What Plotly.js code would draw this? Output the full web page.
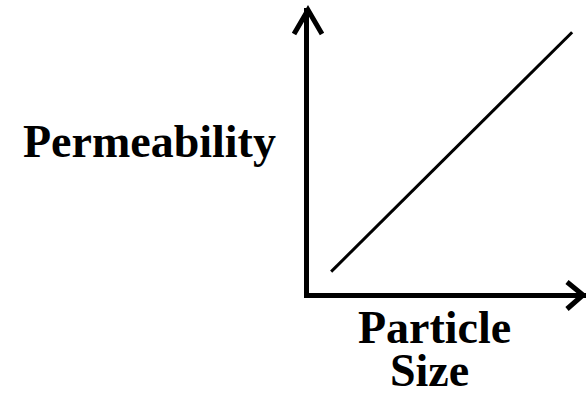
<!DOCTYPE html>
<html>
<head>
<meta charset="utf-8">
<script src="https://cdn.plot.ly/plotly-3.0.1.min.js"></script>
<style>
  html, body { margin: 0; padding: 0; background: #fff; }
  #chart { width: 586px; height: 393px; }
</style>
</head>
<body>
<div id="chart"></div>
<script>
// Data: permeability increases linearly with particle size (schematic)
const particleSize = [0.8, 9.5];
const permeability = [0.75, 9.15];
const xLabelLines = ["Particle", "Size"];
const yLabel = "Permeability";

const W = 586, H = 393;
const L = 309, R = 0, T = 8, B = 100;
const pw = W - L - R, ph = H - T - B;
const px = v => (v - L) / pw;          // pixel -> paper x
const py = v => (H - B - v) / ph;      // pixel -> paper y

const labelFont = { family: "Liberation Serif, Times New Roman, serif", size: 46, color: "#000", weight: "bold" };

const trace = {
  x: particleSize,
  y: permeability,
  mode: "lines",
  line: { color: "#000", width: 3 },
  hoverinfo: "skip",
  showlegend: false
};

const layout = {
  width: W, height: H,
  margin: { l: L, r: R, t: T, b: B, pad: 0 },
  paper_bgcolor: "#fff",
  plot_bgcolor: "#fff",
  xaxis: { range: [0, 10], showgrid: false, zeroline: false, showticklabels: false, ticks: "",
           showline: true, linecolor: "#000", linewidth: 5, fixedrange: true },
  yaxis: { range: [0, 10], showgrid: false, zeroline: false, showticklabels: false, ticks: "",
           showline: true, linecolor: "#000", linewidth: 5, fixedrange: true },
  shapes: [
    { type: "path", xref: "paper", yref: "paper",
      path: `M ${px(294)} ${py(34)} L ${px(308)} ${py(10)} L ${px(322)} ${py(34)}`,
      line: { color: "#000", width: 5 } },
    { type: "path", xref: "paper", yref: "paper",
      path: `M ${px(567)} ${py(282)} L ${px(583)} ${py(295)} L ${px(567)} ${py(309)}`,
      line: { color: "#000", width: 5 } }
  ],
  annotations: [
    { text: yLabel, xref: "paper", yref: "paper", x: px(150), y: py(141),
      xanchor: "center", yanchor: "middle", showarrow: false, font: labelFont },
    { text: xLabelLines[0], xref: "paper", yref: "paper", x: px(434), y: py(327),
      xanchor: "center", yanchor: "middle", showarrow: false, font: labelFont, height: 42 },
    { text: xLabelLines[1], xref: "paper", yref: "paper", x: px(429), y: py(370),
      xanchor: "center", yanchor: "middle", showarrow: false, font: labelFont, height: 42 }
  ]
};

Plotly.newPlot("chart", [trace], layout, { staticPlot: true, displayModeBar: false });
</script>
</body>
</html>
